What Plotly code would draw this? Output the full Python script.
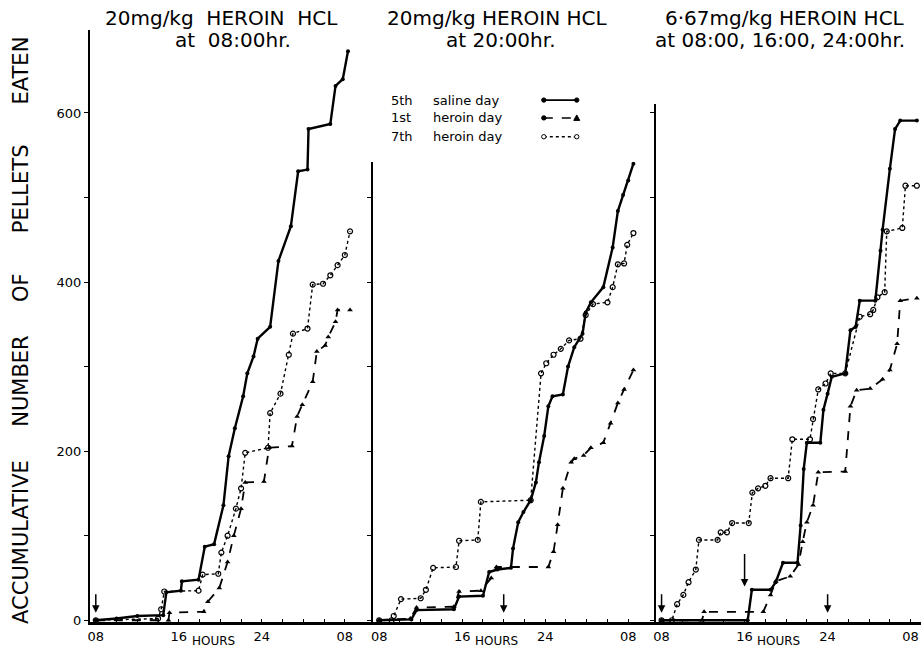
import plotly.graph_objects as go

# ---------------- data (hours after 08:00, cumulative pellets) ----------------
hour_ticks = [0, 8, 16, 24]
hour_labels = ["08", "16", "24", "08"]
y_ticks = [0, 100, 200, 300, 400, 500, 600]
y_labels = ["0", "", "200", "", "400", "", "600"]

series_names = ["5th  saline day", "1st  heroin day", "7th  heroin day"]

# Panel 1: 20 mg/kg heroin at 08:00
p1_saline_t = [0, 2, 4, 6.5, 6.8, 8.2, 8.3, 9.9, 10.5, 11.4, 12.3, 12.8, 13.4, 14.2, 14.6, 15.2, 15.6, 16.8, 17.6, 18.8, 19.5, 20.4, 20.5, 22.6, 23.1, 23.8, 24.3]
p1_saline_v = [0, 2, 5, 6, 33, 35, 46, 48, 87, 90, 136, 194, 227, 265, 292, 312, 333, 347, 425, 466, 531, 533, 581, 587, 632, 640, 673]
p1_h1_t = [0, 7.0, 7.1, 10.4, 10.8, 11.9, 12.7, 13.3, 14.0, 14.4, 16.2, 16.7, 18.9, 19.4, 19.9, 20.9, 21.3, 22.1, 22.4, 23.1, 23.3, 24.5]
p1_h1_v = [0, 0, 9, 10, 22, 38, 69, 100, 132, 163, 164, 204, 206, 241, 255, 282, 318, 325, 335, 353, 367, 367]
p1_h7_t = [0, 6.0, 6.3, 6.6, 9.9, 10.3, 11.8, 12.1, 12.7, 13.5, 14.0, 14.4, 16.6, 16.8, 17.8, 18.6, 19.0, 20.4, 20.9, 21.9, 22.6, 23.3, 24.0, 24.5]
p1_h7_v = [0, 2, 13, 34, 35, 54, 55, 80, 100, 132, 156, 198, 204, 245, 268, 314, 339, 345, 397, 398, 408, 420, 432, 460]

# Panel 2: 20 mg/kg heroin at 20:00
p2_saline_t = [0, 3.1, 3.6, 7.2, 7.7, 10.0, 10.6, 11.4, 12.7, 12.9, 13.4, 13.9, 14.6, 15.1, 15.4, 15.9, 16.3, 16.7, 17.7, 18.2, 18.8, 19.6, 19.9, 20.4, 21.6, 22.5, 23.0, 23.5, 24.0, 24.5]
p2_saline_v = [0, 1, 12, 13, 28, 29, 57, 60, 62, 85, 116, 128, 142, 163, 187, 218, 253, 265, 267, 300, 323, 339, 364, 376, 394, 441, 484, 503, 520, 540]
p2_h1_t = [0, 3.0, 3.6, 7.2, 7.7, 9.8, 10.8, 11.3, 16.3, 16.8, 17.2, 17.7, 18.5, 18.8, 19.7, 20.4, 21.6, 22.3, 23.0, 23.6, 24.5]
p2_h1_v = [0, 2, 15, 16, 34, 35, 50, 63, 63, 81, 113, 156, 187, 191, 195, 204, 210, 233, 257, 273, 296]
p2_h7_t = [0, 1.2, 1.4, 2.1, 4.0, 4.5, 5.2, 7.4, 7.7, 9.5, 9.8, 14.6, 15.6, 16.1, 16.8, 17.5, 18.3, 19.4, 19.9, 20.6, 22.0, 22.5, 23.0, 23.6, 23.9, 24.5]
p2_h7_v = [0, 0, 5, 25, 26, 36, 62, 63, 94, 95, 140, 142, 292, 304, 314, 321, 331, 333, 361, 374, 376, 394, 421, 422, 444, 458]

# Panel 3: 6.67 mg/kg heroin at 08:00, 16:00, 24:00
p3_saline_t = [0, 8.3, 8.7, 10.5, 11.0, 11.7, 13.1, 13.4, 13.7, 14.0, 15.3, 15.6, 16.0, 16.4, 17.7, 18.2, 18.7, 19.1, 20.6, 21.1, 21.3, 22.0, 22.5, 23.0, 24.6]
p3_saline_v = [0, 0, 36, 36, 45, 68, 68, 112, 179, 210, 210, 249, 268, 288, 292, 343, 347, 378, 378, 437, 462, 534, 581, 591, 591]
p3_h1_t = [0, 3.9, 4.1, 9.8, 10.5, 11.0, 12.4, 13.2, 13.6, 14.0, 14.6, 15.1, 17.7, 18.2, 18.8, 20.1, 21.3, 22.0, 22.7, 23.0, 24.6]
p3_h1_v = [0, 0, 10, 10, 30, 46, 52, 66, 93, 116, 136, 175, 176, 253, 272, 274, 285, 296, 327, 378, 381]
p3_h7_t = [0, 1.0, 1.5, 2.1, 2.6, 3.3, 3.6, 5.4, 5.7, 6.3, 6.8, 8.4, 8.75, 9.3, 10.0, 10.5, 12.2, 12.6, 14.3, 14.6, 15.1, 15.8, 16.3, 17.7, 19.1, 20.1, 20.4, 20.8, 21.5, 21.7, 23.2, 23.5, 24.6]
p3_h7_v = [0, 0, 19, 30, 45, 60, 95, 95, 104, 104, 115, 115, 151, 156, 159, 168, 168, 214, 214, 238, 273, 280, 292, 292, 359, 362, 367, 382, 388, 460, 464, 514, 514]

injections = [[0], [12], [0, 8, 16]]

titles = [
    ("20mg/kg  HEROIN  HCL", "at  08:00hr."),
    ("20mg/kg HEROIN HCL", "at 20:00hr."),
    ("6·67mg/kg HEROIN HCL", "at 08:00, 16:00, 24:00hr."),
]

# ---------------- layout geometry (pixels of a 921x653 canvas) ----------------
W, H = 921, 653
def fx(p): return p / W
def fy(p): return 1 - p / H

px_per_unit = 0.8533
y0_px = 626
axis_px = 628
panel_left = [88, 372, 655]
panel_right = [372, 655, 921]
panel_top = [30, 163, 105]
t0_px = [94, 378, 661]
px_per_hour = 10.4
title_cx = [(220, 232), (497, 500), (785, 780)]

FONT = "DejaVu Sans"
fig = go.Figure()

styles = [
    dict(line=dict(color="black", width=2.4), marker=dict(symbol="circle", size=4, color="black")),
    dict(line=dict(color="black", width=1.8, dash="dash"), marker=dict(symbol="triangle-up", size=5, color="black")),
    dict(line=dict(color="black", width=1.4, dash="dot"), marker=dict(symbol="circle-open", size=5, color="black", line=dict(width=1.2))),
]
panels = [
    [(p1_saline_t, p1_saline_v), (p1_h1_t, p1_h1_v), (p1_h7_t, p1_h7_v)],
    [(p2_saline_t, p2_saline_v), (p2_h1_t, p2_h1_v), (p2_h7_t, p2_h7_v)],
    [(p3_saline_t, p3_saline_v), (p3_h1_t, p3_h1_v), (p3_h7_t, p3_h7_v)],
]

annotations = []
def note(**kw):
    kw.setdefault("xanchor", "center")
    kw.setdefault("yanchor", "middle")
    kw.setdefault("showarrow", False)
    annotations.append(kw)

for i in range(3):
    xa = "x" if i == 0 else f"x{i+1}"
    ya = "y" if i == 0 else f"y{i+1}"
    for k, (t, v) in enumerate(panels[i]):
        fig.add_trace(go.Scatter(x=t, y=v, mode="lines+markers", name=series_names[k],
                                 showlegend=False, xaxis=xa, yaxis=ya, **styles[k]))
    xmin = (panel_left[i] - t0_px[i]) / px_per_hour
    xmax = (panel_right[i] - t0_px[i]) / px_per_hour
    ymin = -(axis_px - y0_px) / px_per_unit
    ymax = (y0_px - panel_top[i]) / px_per_unit
    xkey = "xaxis" if i == 0 else f"xaxis{i+1}"
    ykey = "yaxis" if i == 0 else f"yaxis{i+1}"
    fig.update_layout(**{
        xkey: dict(domain=[fx(panel_left[i]), fx(panel_right[i])], range=[xmin, xmax],
                   anchor=ya, showline=True, linecolor="black", linewidth=2.5,
                   showgrid=False, zeroline=False, tickvals=hour_ticks, ticktext=hour_labels,
                   ticks="", tickfont=dict(family=FONT, size=13, color="black"),
                   minor=dict(tickvals=list(range(0, 26, 2)), ticks="inside", ticklen=3,
                              tickcolor="black", tickwidth=1.2),
                   fixedrange=True),
        ykey: dict(domain=[fy(axis_px), fy(panel_top[i])], range=[ymin, ymax],
                   anchor=xa, showline=True, linecolor="black", linewidth=2,
                   showgrid=False, zeroline=False, tickvals=y_ticks,
                   ticktext=y_labels if i == 0 else [""] * len(y_ticks),
                   ticks="outside", ticklen=4, tickcolor="black", tickwidth=1.2,
                   tickfont=dict(family=FONT, size=13, color="black"),
                   showticklabels=(i == 0), fixedrange=True),
    })
    # titles
    note(x=fx(title_cx[i][0]), y=fy(18), xref="paper", yref="paper", text=titles[i][0],
         font=dict(family=FONT, size=20, color="black"))
    note(x=fx(title_cx[i][1]), y=fy(40), xref="paper", yref="paper", text=titles[i][1],
         font=dict(family=FONT, size=20, color="black"))
    # HOURS
    note(x=11.3, y=fy(647), xref=xa, yref="paper", text="HOURS",
         font=dict(family=FONT, size=12, color="black"))
    # injection arrows
    for tj in injections[i]:
        long_arrow = (i == 2 and tj == 8)
        annotations.append(dict(x=tj, y=(40 if long_arrow else 9), xref=xa, yref=ya,
                                ax=0, ay=(-34 if long_arrow else -20), showarrow=True,
                                arrowhead=2, arrowsize=1, arrowwidth=1.5, arrowcolor="black", text=""))

# y axis title
sp = "\u00a0"
note(x=fx(19), y=fy(333), xref="paper", yref="paper",
     text="ACCUMULATIVE" + sp * 5 + "NUMBER" + sp * 5 + "OF" + sp * 6 + "PELLETS" + sp * 6 + "EATEN",
     textangle=-90, font=dict(family=FONT, size=21, color="black"))

# legend (text left, sample right)
leg_rows = [101, 119, 138]
shapes = []
for k, ry in enumerate(leg_rows):
    ordn, rest = series_names[k].split("  ")
    note(x=fx(388), y=fy(ry), xref="paper", yref="paper", xanchor="left",
         text=ordn, font=dict(family=FONT, size=13, color="black"))
    note(x=fx(430), y=fy(ry), xref="paper", yref="paper", xanchor="left",
         text=rest, font=dict(family=FONT, size=13, color="black"))
    dash = ["solid", "dash", "dot"][k]
    shapes.append(dict(type="line", xref="paper", yref="paper", x0=fx(543), x1=fx(576),
                       y0=fy(ry), y1=fy(ry), line=dict(color="black", width=1.5 if k else 1.8, dash=dash)))
    for ex in (543, 576):
        r = 2.2
        if k == 1 and ex == 576:
            shapes.append(dict(type="path", xref="paper", yref="paper",
                               path=f"M {fx(ex-3)} {fy(ry+2.5)} L {fx(ex+3)} {fy(ry+2.5)} L {fx(ex)} {fy(ry-3)} Z",
                               fillcolor="black", line=dict(color="black", width=1)))
        else:
            shapes.append(dict(type="circle", xref="paper", yref="paper",
                               x0=fx(ex - r), x1=fx(ex + r), y0=fy(ry + r), y1=fy(ry - r),
                               fillcolor="white" if k == 2 else "black",
                               line=dict(color="black", width=1)))

fig.update_layout(width=W, height=H, margin=dict(l=0, r=0, t=0, b=0),
                  paper_bgcolor="white", plot_bgcolor="white",
                  annotations=annotations, shapes=shapes, showlegend=False)

fig.write_html("out.html", config={"displayModeBar": False},
               post_script="document.body.style.margin='0';")
